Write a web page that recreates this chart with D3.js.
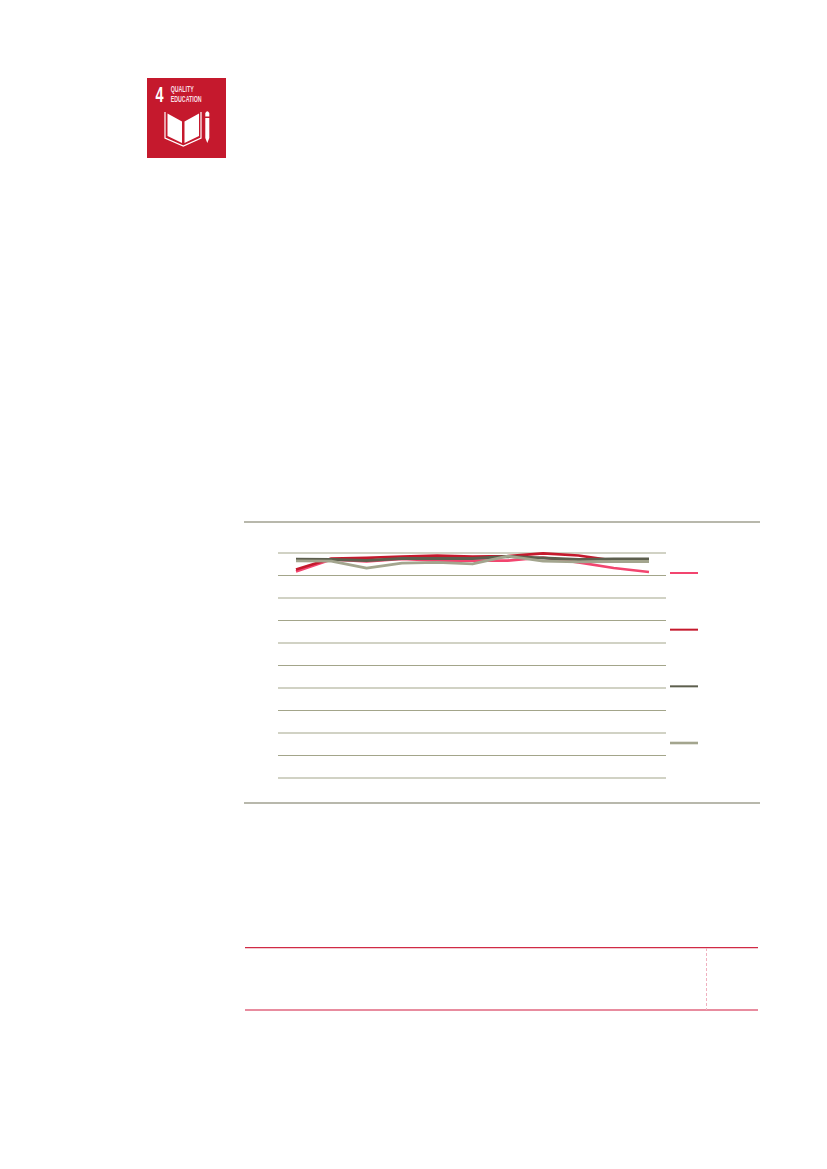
<!DOCTYPE html>
<html>
<head>
<meta charset="utf-8">
<script src="https://cdn.jsdelivr.net/npm/d3@7"></script>
<style>
html, body { margin: 0; padding: 0; background: #fff; }
svg { display: block; }
</style>
</head>
<body>
<svg id="page" width="827" height="1169"></svg>
<script>
// values, 0-100 scale (the labels are not visible in the reference)
var periods = [0, 1, 2, 3, 4, 5, 6, 7, 8, 9, 10];
var yTicks = [0, 10, 20, 30, 40, 50, 60, 70, 80, 90, 100];
var seriesPink = [91.6, 96.9, 96.0, 97.1, 96.4, 96.4, 96.4, 97.8, 95.6, 93.1, 91.3];
var seriesCrimson = [92.4, 97.3, 97.6, 98.2, 98.7, 98.2, 98.4, 99.6, 98.7, 96.4, 96.4];
var seriesDark = [97.0, 96.9, 96.4, 97.3, 97.3, 97.3, 98.2, 97.6, 96.9, 97.1, 97.1];
var seriesGray = [96.3, 96.2, 93.1, 95.3, 95.6, 94.9, 98.4, 96.2, 95.8, 96.0, 96.0];

var seriesNames = ["pink", "crimson", "dark", "gray"];
var colors = { pink: "#f2456f", crimson: "#c5192d", dark: "#5d5f4e", gray: "#a3a58e" };
var widths = { pink: 2.6, crimson: 2.6, dark: 3, gray: 2.8 };
var valuesByName = { pink: seriesPink, crimson: seriesCrimson, dark: seriesDark, gray: seriesGray };

var svg = d3.select("#page");

// **************   chart   ****************//
var x = d3.scalePoint().domain(periods).range([296, 649]);
var y = d3.scaleLinear().domain([0, 100]).range([777.5, 552.5]);

var grid = svg.append("g")
	.attr("transform", "translate(278,0)")
	.call(d3.axisRight(y).tickValues(yTicks).tickSize(388).tickFormat(""));
grid.select(".domain").remove();
grid.selectAll("line").attr("stroke", "#a3a58a").attr("stroke-width", 1);

var line = d3.line()
	.x(function(d, i){ return x(periods[i]); })
	.y(function(d){ return y(d); });

svg.append("g").selectAll("path")
	.data(seriesNames)
	.enter().append("path")
	.attr("d", function(d){ return line(valuesByName[d]); })
	.attr("fill", "none")
	.attr("stroke", function(d){ return colors[d]; })
	.attr("stroke-width", function(d){ return widths[d]; })
	.attr("stroke-linejoin", "round");

// legend keys, no text visible in the reference
var legendY = d3.scalePoint().domain(seriesNames).range([573, 743]);
svg.append("g").selectAll("line")
	.data(seriesNames)
	.enter().append("line")
	.attr("x1", 670).attr("x2", 698)
	.attr("y1", function(d){ return legendY(d); })
	.attr("y2", function(d){ return legendY(d); })
	.attr("stroke", function(d){ return colors[d]; })
	.attr("stroke-width", function(d){ return d == "gray" ? 2.6 : 2; });

// **************   rules   ****************//
function rule(x1, y1, x2, y2, color, w, dash) {
	svg.append("line")
		.attr("x1", x1).attr("y1", y1).attr("x2", x2).attr("y2", y2)
		.attr("stroke", color).attr("stroke-width", w)
		.attr("stroke-dasharray", dash || null);
}
rule(244, 522, 760, 522, "#a0a090", 1.3);
rule(244, 803, 760, 803, "#a0a090", 1.3);
rule(245, 947.6, 758, 947.6, "#d02a45", 1.2);
rule(245, 1010, 758, 1010, "#e0667f", 1.4);
rule(706.5, 948, 706.5, 1010, "#f0b0bf", 1, "3 2");

// **************   SDG 4 badge   ****************//
var badge = svg.append("g").attr("transform", "translate(147,78)");
badge.append("rect").attr("width", 79).attr("height", 80).attr("fill", "#c5192d");
badge.append("text").text("4")
	.attr("x", 8.5).attr("y", 24.3)
	.attr("textLength", 8).attr("lengthAdjust", "spacingAndGlyphs")
	.attr("font-family", "Liberation Sans")
	.attr("font-weight", "bold").attr("font-size", 22).attr("fill", "#fff");
badge.selectAll("text.name")
	.data(["QUALITY", "EDUCATION"])
	.enter().append("text").attr("class", "name")
	.text(function(d){ return d; })
	.attr("x", 23.7)
	.attr("y", function(d, i){ return 13.5 + i * 10; })
	.attr("textLength", function(d, i){ return i ? 31 : 23; })
	.attr("lengthAdjust", "spacingAndGlyphs")
	.attr("font-family", "Liberation Sans")
	.attr("font-weight", "bold").attr("font-size", 8.5).attr("fill", "#f8dfe2");

// book and pencil
badge.append("path")
	.attr("d", "M20.5 35.5 L35 43.5 L35 65 L20.5 58 Z M37.5 43.5 L52 35.5 L52 58 L37.5 65 Z")
	.attr("fill", "#fff");
badge.append("path")
	.attr("d", "M18 34 L18 60 L36.3 68 L54 60 L54 34")
	.attr("fill", "none").attr("stroke", "#fff").attr("stroke-width", 1.2);
badge.append("path")
	.attr("d", "M58.3 40 L62.3 40 L62.3 60 L60.3 65 L58.3 60 Z M58.3 35 Q60.3 31.5 62.3 35 L62.3 38.5 L58.3 38.5 Z")
	.attr("fill", "#fff");
</script>
</body>
</html>
